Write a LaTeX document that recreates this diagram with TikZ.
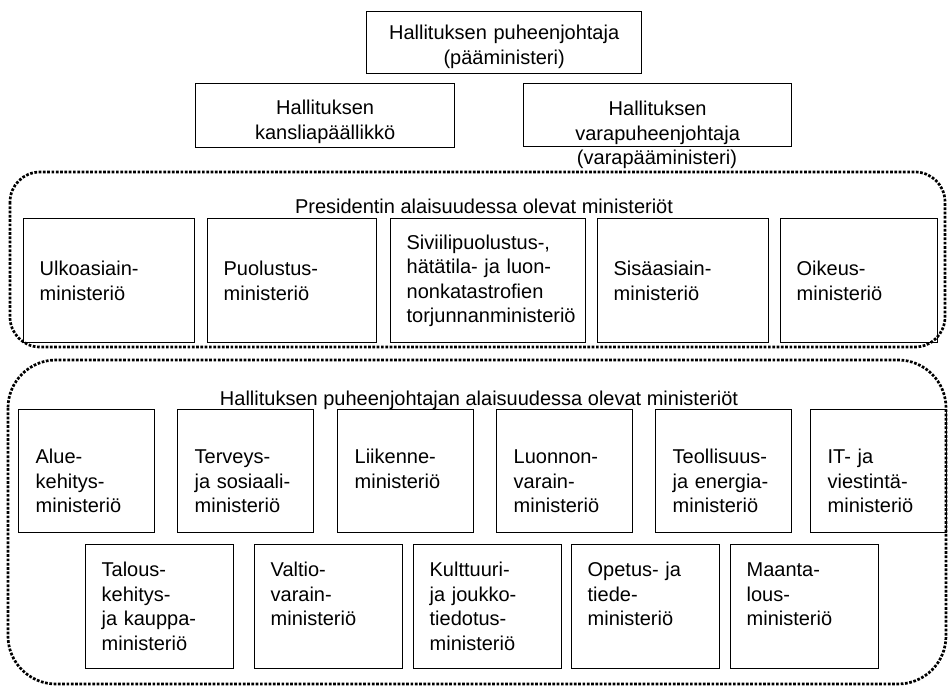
\documentclass[tikz,border=0pt]{standalone}
\usepackage{fontspec}
\setmainfont{Liberation Sans}
\usetikzlibrary{positioning}

\tikzset{
  box/.style={draw, line width=1.3bp, inner ysep=0pt, anchor=north west,
    font=\fontsize{20bp}{24.5bp}\selectfont},
  headbox/.style={box, inner xsep=0pt, align=center},
  presbox/.style={box, inner xsep=16bp, align=left, minimum height=124bp},
  rowonebox/.style={box, inner xsep=17bp, align=left, text width=102bp,
    text height=54bp, text depth=69bp},
  rowtwobox/.style={box, inner xsep=16bp, align=left, text width=116bp,
    text height=32bp, text depth=92bp},
  region/.style={line width=2.7bp, dash pattern=on 2.7bp off 1.6bp},
  title/.style={anchor=base, inner sep=0pt, font=\fontsize{20bp}{24.5bp}\selectfont}
}

\begin{document}
\begin{tikzpicture}[x=1bp, y=-1bp]
\useasboundingbox (0,0) rectangle (948,686);

% government leadership
\node[headbox, text width=275bp, text height=28bp, text depth=34bp] (pm) at (366,11)
  {Hallituksen puheenjohtaja\\(pääministeri)};
\node[headbox, text width=259bp, text height=31bp, text depth=33bp] (kanslia) at (195,83)
  {Hallituksen\\kansliapäällikkö};
\node[headbox, text width=268bp, text height=32bp, text depth=31bp] (vara) at (523,83)
  {Hallituksen\\varapuheenjohtaja};
\node[title] (varapm) at (657,165) {(varapääministeri)};

% ministries under the president
\draw[region, rounded corners=30bp] (10,172) rectangle (945,347);
\node[title] (prestitle) at (484,213) {Presidentin alaisuudessa olevat ministeriöt};
\node[presbox, text width=139bp] (ulko) at (23,218) {Ulkoasiain-\\ministeriö};
\node[presbox, text width=137bp] (puol) at (207,218) {Puolustus-\\ministeriö};
\node[presbox, text width=163bp] (sivi) at (390,218)
  {Siviilipuolustus-,\\hätätila- ja luon-\\nonkatastrofien\\torjunnanministeriö};
\node[presbox, text width=139bp] (sisa) at (597,218) {Sisäasiain-\\ministeriö};
\node[presbox, text width=125bp] (oike) at (780,218) {Oikeus-\\ministeriö};

% ministries under the prime minister
\draw[region, rounded corners=48bp] (8,360) rectangle (946,684);
\node[title] (pmtitle) at (479,405) {Hallituksen puheenjohtajan alaisuudessa olevat ministeriöt};
\node[rowonebox] (alue) at (18,409) {Alue-\\kehitys-\\ministeriö};
\node[rowonebox] (terv) at (177,409) {Terveys-\\ja sosiaali-\\ministeriö};
\node[rowonebox] (liik) at (337,409) {Liikenne-\\ministeriö};
\node[rowonebox] (luon) at (496,409) {Luonnon-\\varain-\\ministeriö};
\node[rowonebox] (teol) at (655,409) {Teollisuus-\\ja energia-\\ministeriö};
\node[rowonebox] (it) at (810,409) {IT- ja\\viestintä-\\ministeriö};

\node[rowtwobox] (talo) at (85,544) {Talous-\\kehitys-\\ja kauppa-\\ministeriö};
\node[rowtwobox] (valt) at (254,544) {Valtio-\\varain-\\ministeriö};
\node[rowtwobox] (kult) at (413,544) {Kulttuuri-\\ja joukko-\\tiedotus-\\ministeriö};
\node[rowtwobox] (opet) at (571,544) {Opetus- ja\\tiede-\\ministeriö};
\node[rowtwobox] (maan) at (730,544) {Maanta-\\lous-\\ministeriö};
\end{tikzpicture}
\end{document}
